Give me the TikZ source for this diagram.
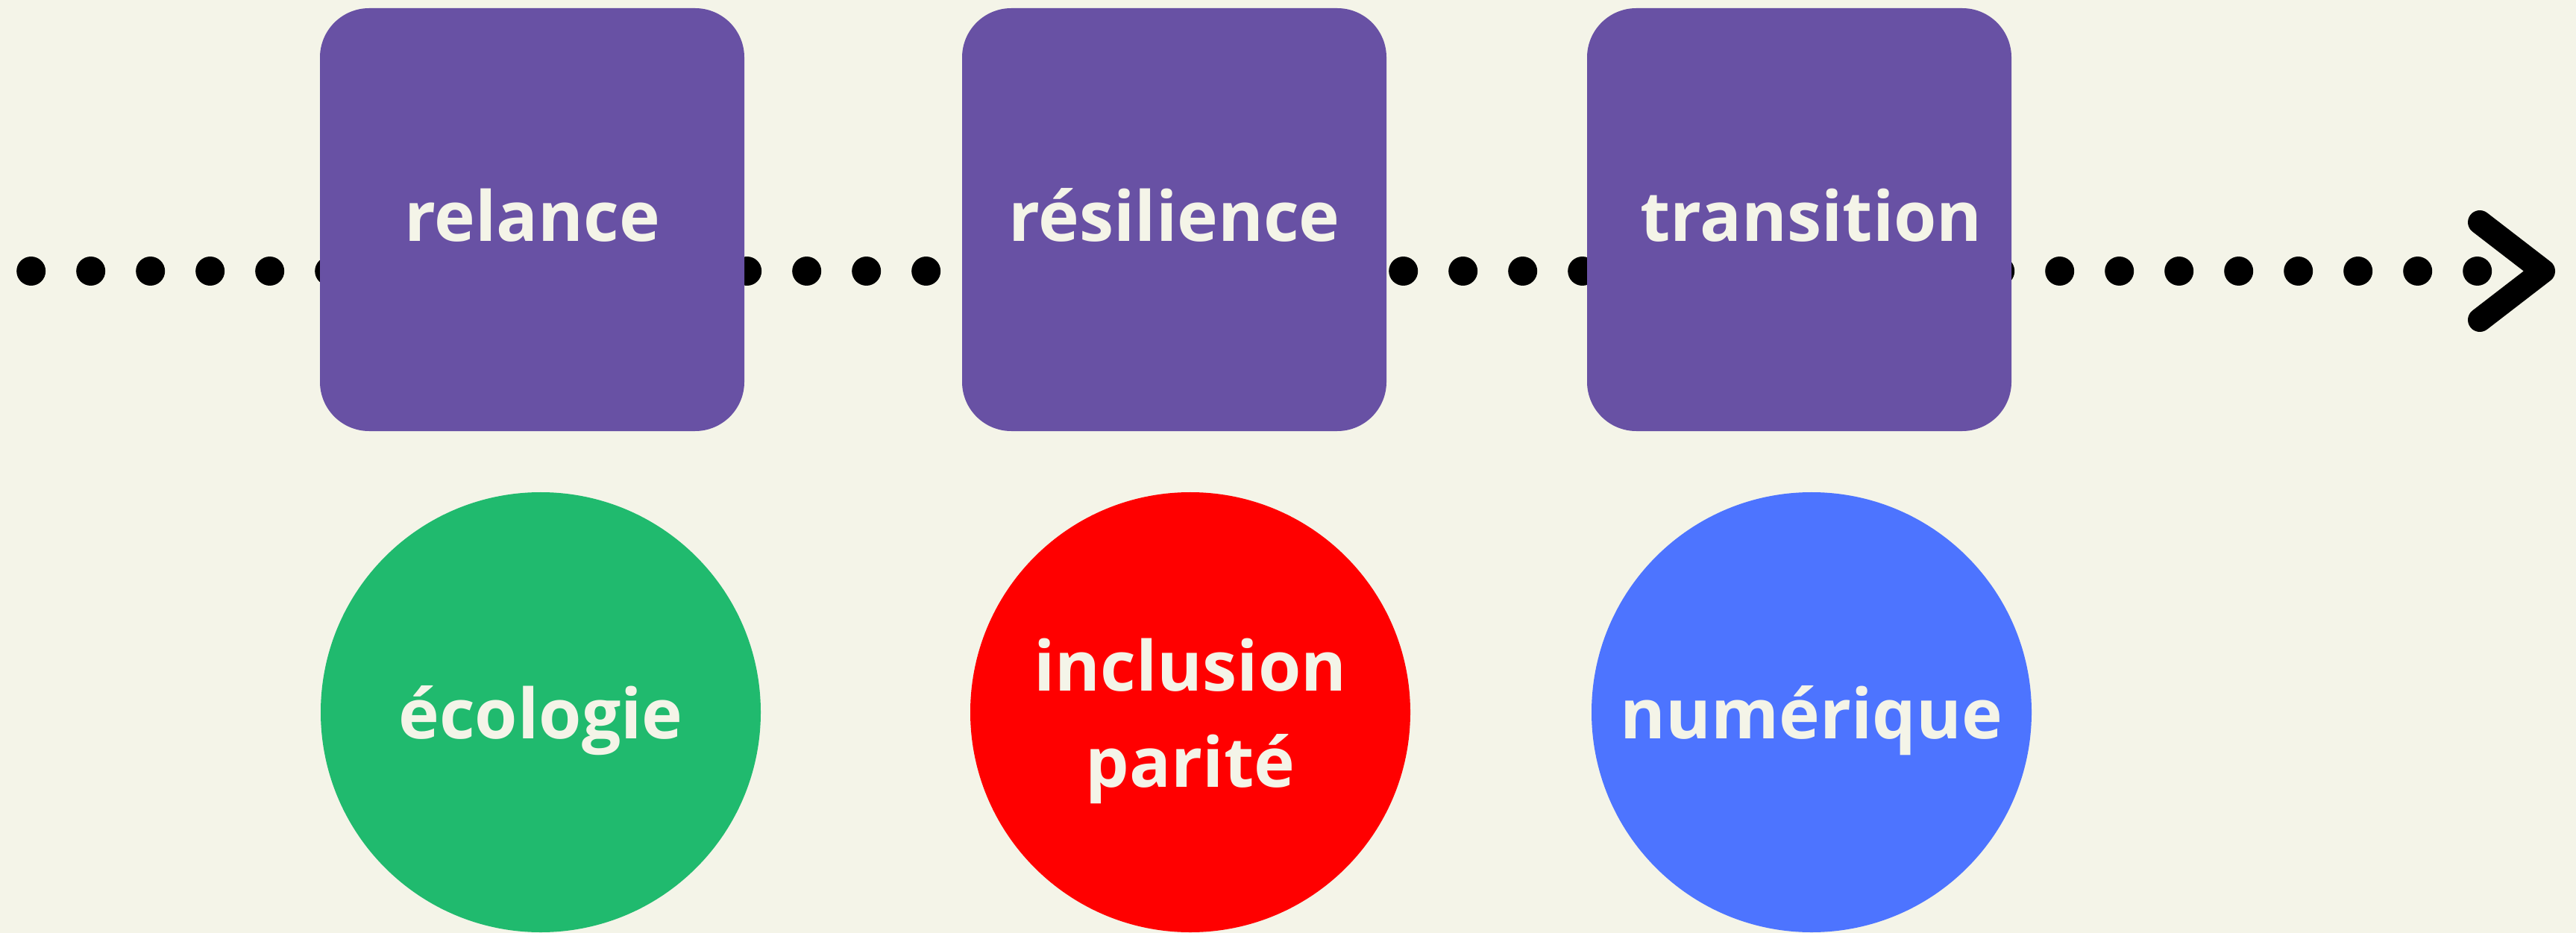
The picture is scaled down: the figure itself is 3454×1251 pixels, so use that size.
\documentclass[tikz,border=0pt]{standalone}
\usepackage{fontspec}
\setmainfont{Open Sans}
\definecolor{cream}{HTML}{F4F4E8}
\definecolor{boxpurple}{HTML}{6851A4}
\definecolor{cgreen}{HTML}{20BA6E}
\definecolor{cred}{HTML}{FF0000}
\definecolor{cblue}{HTML}{4D74FF}
\begin{document}
\begin{tikzpicture}[x=0.2pt,y=-0.2pt,
  lbl/.style={text=cream, font=\fontsize{18.55}{22}\selectfont\bfseries},
  stepbox/.style={lbl, fill=boxpurple, rounded corners=13.2pt, minimum width=113.8pt, minimum height=113.4pt, inner sep=0pt, text height=11.4pt, text depth=0pt},
  circ/.style={lbl, circle, minimum size=118pt, inner sep=0pt, text height=14pt, text depth=0pt},
  dot/.style={fill=black},
  chev/.style={draw=black, line width=6.4pt, line cap=round, line join=round}]
\useasboundingbox (0,0) rectangle (3454,1251);
\fill[cream] (0,0) rectangle (3454,1251);
% dotted timeline
\foreach \i in {0,...,41} \fill[dot] ({41.7+80*\i},363.5) circle (3.9pt);
\coordinate (chtop) at (3325,298);
\coordinate (chtip) at (3410,363.5);
\coordinate (chbot) at (3325,429);
\draw[chev] (chtop) -- (chtip) -- (chbot);
% boxes
\node[stepbox] (b1) at (713.5,294.5) {relance};
\node[stepbox] (b2) at (1574.5,294.5) {résilience};
\node[stepbox] (b3) at (2412.5,294.5) {\hspace*{6.4pt}transition};
% circles
\node[circ, fill=cgreen] (c1) at (725,955) {écologie};
\node[circ, fill=cred, text height=0pt] (c2) at (1596,955) {};
\node[lbl, anchor=base] (c2a) at (1596,926) {inclusion};
\node[lbl, anchor=base] (c2b) at (1596,1055) {parité};
\node[circ, fill=cblue] (c3) at (2429,955) {numérique};
\end{tikzpicture}
\end{document}
